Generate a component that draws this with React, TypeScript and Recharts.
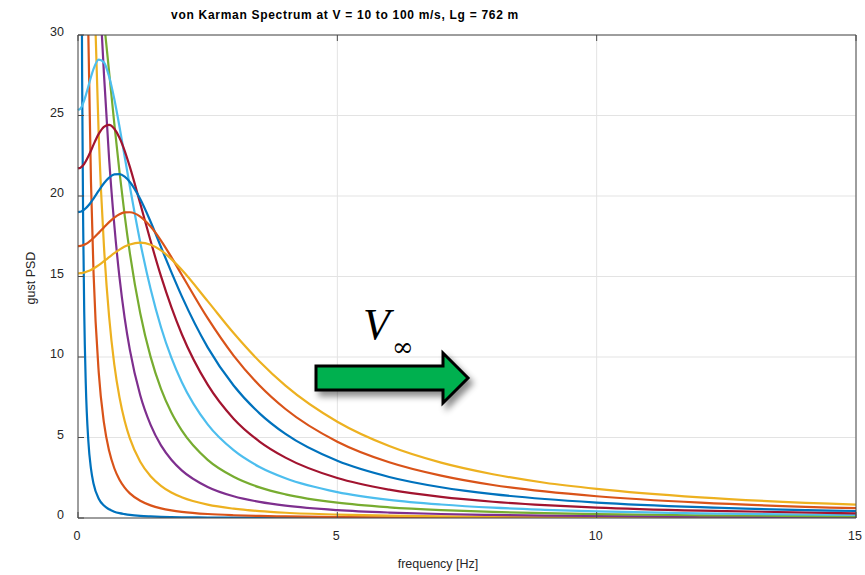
import { LineChart, Line, XAxis, YAxis, CartesianGrid } from "recharts";

// frequency samples [Hz], denser near 0 where the low-speed curves are steep
const FREQ = [
  0, 0.02, 0.04, 0.06, 0.08, 0.1, 0.12, 0.15, 0.2, 0.25, 0.3, 0.4, 0.5, 0.6, 0.7, 0.8, 0.9, 1,
  1.2, 1.4, 1.6, 1.8, 2, 2.5, 3, 3.5, 4, 5, 6, 7, 8, 9, 10, 12, 15,
];

// gust PSD, one list per airspeed
const PSD_V10 = [152, 154, 82.2, 44.7, 27.2, 18.1, 12.8, 8.34, 4.75, 3.06, 2.13, 1.2, 0.77, 0.54, 0.39, 0.3, 0.24, 0.19, 0.13, 0.099, 0.076, 0.06, 0.048, 0.031, 0.022, 0.016, 0.012, 0.008, 0.0054, 0.0039, 0.003, 0.0024, 0.0019, 0.0013, 0.0009];
const PSD_V20 = [76, 79.8, 85, 84.1, 77.1, 67.3, 57.4, 44.7, 29.9, 20.9, 15.2, 9.03, 5.92, 4.17, 3.09, 2.38, 1.89, 1.53, 1.07, 0.785, 0.6, 0.477, 0.386, 0.247, 0.172, 0.126, 0.097, 0.062, 0.043, 0.032, 0.024, 0.019, 0.0155, 0.011, 0.0069];
const PSD_V30 = [50.7, 51.2, 52.7, 54.6, 56.1, 56.9, 56.8, 54.9, 48.6, 41.2, 34.3, 23.7, 16.9, 12.5, 9.53, 7.49, 6.02, 4.94, 3.49, 2.59, 2.0, 1.58, 1.29, 0.83, 0.58, 0.425, 0.325, 0.21, 0.145, 0.107, 0.082, 0.065, 0.052, 0.036, 0.023];
const PSD_V40 = [38, 38.14, 38.5, 39.1, 39.9, 40.7, 41.4, 42.3, 42.7, 41.7, 39.6, 33.7, 27.6, 22.3, 18.2, 14.94, 12.42, 10.44, 7.62, 5.78, 4.51, 3.62, 2.96, 1.93, 1.35, 1.0, 0.765, 0.49, 0.34, 0.25, 0.19, 0.15, 0.124, 0.086, 0.055];
const PSD_V50 = [30.4, 30.45, 30.58, 30.8, 31.08, 31.4, 31.8, 32.4, 33.3, 33.99, 34.2, 33.2, 30.8, 27.7, 24.5, 21.5, 18.8, 16.45, 12.72, 10.01, 8.02, 6.55, 5.44, 3.61, 2.56, 1.9, 1.47, 0.95, 0.664, 0.489, 0.375, 0.298, 0.241, 0.168, 0.107];
const PSD_V60 = [25.33, 25.37, 25.4, 25.49, 25.61, 25.77, 25.94, 26.25, 26.81, 27.39, 27.89, 28.47, 28.3, 27.42, 26.02, 24.3, 22.44, 20.59, 17.13, 14.22, 11.85, 9.96, 8.45, 5.81, 4.21, 3.17, 2.47, 1.61, 1.13, 0.84, 0.64, 0.51, 0.41, 0.29, 0.185];
const PSD_V70 = [21.71, 21.73, 21.74, 21.79, 21.84, 21.92, 22.0, 22.16, 22.47, 22.82, 23.19, 23.86, 24.3, 24.42, 24.18, 23.62, 22.81, 21.81, 19.53, 17.2, 15.02, 13.1, 11.43, 8.28, 6.17, 4.75, 3.75, 2.48, 1.76, 1.31, 1.01, 0.8, 0.65, 0.455, 0.293];
const PSD_V80 = [19.0, 19.01, 19.02, 19.04, 19.07, 19.11, 19.15, 19.24, 19.41, 19.61, 19.84, 20.33, 20.79, 21.14, 21.34, 21.36, 21.2, 20.87, 19.81, 18.4, 16.83, 15.27, 13.78, 10.6, 8.23, 6.5, 5.22, 3.55, 2.55, 1.91, 1.48, 1.18, 0.96, 0.67, 0.435];
const PSD_V90 = [16.89, 16.89, 16.9, 16.91, 16.93, 16.95, 16.98, 17.02, 17.12, 17.25, 17.39, 17.71, 18.05, 18.38, 18.66, 18.87, 18.98, 18.99, 18.72, 18.1, 17.23, 16.2, 15.11, 12.41, 10.09, 8.23, 6.77, 4.74, 3.46, 2.63, 2.05, 1.65, 1.35, 0.95, 0.61];
const PSD_V100 = [15.2, 15.2, 15.21, 15.21, 15.22, 15.24, 15.25, 15.28, 15.34, 15.41, 15.5, 15.71, 15.95, 16.2, 16.45, 16.67, 16.86, 16.99, 17.1, 16.97, 16.62, 16.08, 15.42, 13.47, 11.49, 9.72, 8.22, 5.98, 4.47, 3.44, 2.72, 2.19, 1.81, 1.28, 0.83];

const SPEEDS = [10, 20, 30, 40, 50, 60, 70, 80, 90, 100];
const SERIES = [PSD_V10, PSD_V20, PSD_V30, PSD_V40, PSD_V50, PSD_V60, PSD_V70, PSD_V80, PSD_V90, PSD_V100];

// matlab default line order
const COLORS = ["#0072BD", "#D95319", "#EDB120", "#7E2F8E", "#77AC30", "#4DBEEE", "#A2142F", "#0072BD", "#D95319", "#EDB120"];

const X_TICKS = [0, 5, 10, 15];
const Y_TICKS = [0, 5, 10, 15, 20, 25, 30];

const rows = FREQ.map((f, i) => {
  const r: Record<string, number> = { f };
  SPEEDS.forEach((v, k) => {
    r["v" + v] = SERIES[k][i];
  });
  return r;
});

const AXIS = "#4a4a4a";
const TEXT = "#262626";
const FONT = "'Liberation Sans', Arial, Helvetica, sans-serif";
const FS = 12.5;

function LeftTick({ x, y, payload }: any) {
  return (
    <g>
      <line x1={x + 10} x2={x + 16} y1={y} y2={y} stroke={AXIS} />
      <text x={x - 4} y={y - 3} dy="0.35em" textAnchor="end" fontSize={FS} fill={TEXT} fontFamily={FONT}>
        {payload.value}
      </text>
    </g>
  );
}

function RightTick({ x, y }: any) {
  return <line x1={x} x2={x - 6} y1={y} y2={y} stroke={AXIS} />;
}

function BottomTick({ x, y, payload }: any) {
  return (
    <g>
      <line x1={x} x2={x} y1={y - 13} y2={y - 19} stroke={AXIS} />
      <text x={x - 1} y={y} dy="0.71em" textAnchor="middle" fontSize={FS} fill={TEXT} fontFamily={FONT}>
        {payload.value}
      </text>
    </g>
  );
}

function TopTick({ x, y }: any) {
  return <line x1={x} x2={x} y1={y} y2={y + 6} stroke={AXIS} />;
}

function Overlay() {
  return (
    <svg width={865} height={575} style={{ position: "absolute", left: 0, top: 0, pointerEvents: "none" }}>
      <defs>
        <filter id="shadow" x="-20%" y="-40%" width="150%" height="190%">
          <feDropShadow dx="4" dy="5" stdDeviation="3" floodColor="#000" floodOpacity="0.45" />
        </filter>
      </defs>
      <text x={345} y={19} textAnchor="middle" fontSize={12} letterSpacing={0.7} fontWeight="bold" fill="#000" fontFamily={FONT}>
        von Karman Spectrum at V = 10 to 100 m/s, Lg = 762 m
      </text>
      <text x={438} y={568} textAnchor="middle" fontSize={FS} fill={TEXT} fontFamily={FONT}>
        frequency [Hz]
      </text>
      <text
        x={0}
        y={0}
        transform="translate(35 278) rotate(-90)"
        textAnchor="middle"
        fontSize={FS}
        fill={TEXT}
        fontFamily={FONT}
      >
        gust PSD
      </text>
      <polygon
        points="316,366 443,366 443,353 468,378 443,403 443,390 316,390"
        fill="#00B050"
        stroke="#000"
        strokeWidth={3}
        strokeLinejoin="miter"
        filter="url(#shadow)"
      />
      <text x={363} y={339} fontSize={44} fontStyle="italic" fill="#000" fontFamily="'Liberation Serif', 'Times New Roman', serif">
        V
      </text>
      <text x={392} y={356} fontSize={26} fill="#000" fontFamily="'DejaVu Serif', 'Liberation Serif', serif">
        ∞
      </text>
    </svg>
  );
}

export default function App() {
  return (
    <div style={{ position: "absolute", left: 0, top: 0, width: 865, height: 575, background: "#fff" }}>
      <LineChart width={865} height={575} data={rows} margin={{ top: 30, right: 0, bottom: 27, left: 28 }}>
        <CartesianGrid stroke="#e3e3e3" strokeWidth={1} />
        <XAxis
          dataKey="f"
          type="number"
          domain={[0, 15]}
          ticks={X_TICKS}
          height={30}
          tickSize={0}
          tickMargin={13}
          tick={<BottomTick />}
          axisLine={{ stroke: AXIS }}
          tickLine={false}
        />
        <XAxis
          xAxisId="top"
          dataKey="f"
          type="number"
          orientation="top"
          domain={[0, 15]}
          ticks={X_TICKS}
          height={5}
          tickSize={0}
          tickMargin={0}
          tick={<TopTick />}
          axisLine={{ stroke: AXIS }}
          tickLine={false}
        />
        <YAxis
          type="number"
          domain={[0, 30]}
          ticks={Y_TICKS}
          allowDataOverflow
          width={50}
          tickSize={0}
          tickMargin={10}
          tick={<LeftTick />}
          axisLine={{ stroke: AXIS }}
          tickLine={false}
        />
        <YAxis
          yAxisId="right"
          orientation="right"
          type="number"
          domain={[0, 30]}
          ticks={Y_TICKS}
          width={9}
          tickSize={0}
          tickMargin={0}
          tick={<RightTick />}
          axisLine={{ stroke: AXIS }}
          tickLine={false}
        />
        {SPEEDS.map((v, k) => (
          <Line
            key={v}
            dataKey={"v" + v}
            type="monotone"
            stroke={COLORS[k]}
            strokeWidth={2.2}
            dot={false}
            activeDot={false}
            isAnimationActive={false}
          />
        ))}
      </LineChart>
      <Overlay />
    </div>
  );
}
